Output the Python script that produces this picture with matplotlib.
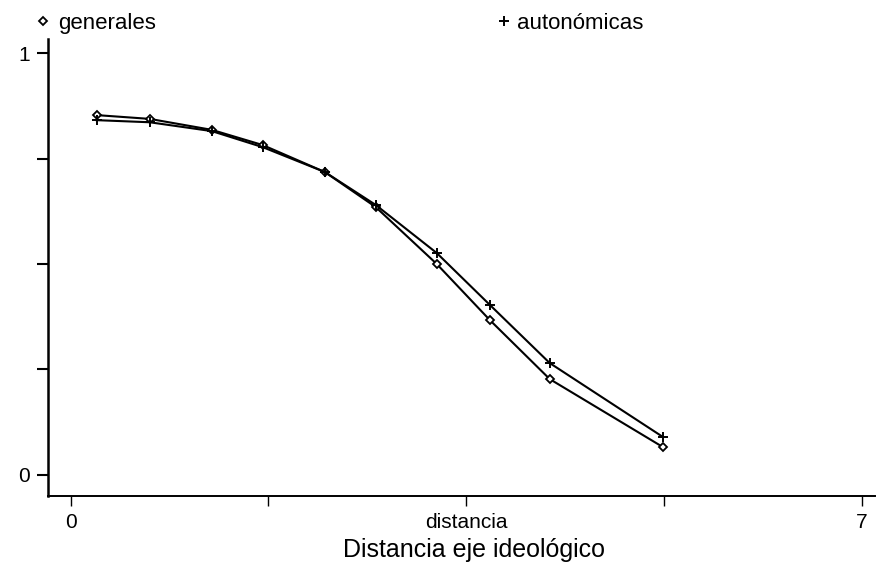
# Curvas de probabilidad de voto según distancia en el eje ideológico
import matplotlib.pyplot as plt

plt.rcParams['font.family'] = ['Liberation Sans', 'DejaVu Sans']

distancia = [0.23, 0.70, 1.25, 1.70, 2.25, 2.70, 3.24, 3.71, 4.24, 5.24]
generales = [0.853, 0.844, 0.818, 0.782, 0.718, 0.635, 0.500, 0.367, 0.227, 0.066]
autonomicas = [0.841, 0.836, 0.815, 0.777, 0.718, 0.640, 0.526, 0.403, 0.265, 0.090]

xticks = [0, 1.75, 3.5, 5.25, 7]
xticklabels = ['0', '', 'distancia', '', '7']
yticks = [0, 0.25, 0.5, 0.75, 1]
yticklabels = ['0', '', '', '', '1']

fig = plt.figure(figsize=(8.8, 5.68), dpi=100)
ax = fig.add_axes([0.0545, 0.127, 0.94, 0.804])

l1, = ax.plot(distancia, generales, color='black', lw=1.5, marker='D',
              markersize=4, markerfacecolor='white', markeredgewidth=1.3)
l2, = ax.plot(distancia, autonomicas, color='black', lw=1.5, marker='+',
              markersize=7, markeredgewidth=1.4)

ax.set_xlim(-0.2, 7.12)
ax.set_ylim(-0.05, 1.033)
ax.set_xticks(xticks)
ax.set_xticklabels(xticklabels)
ax.set_yticks(yticks)
ax.set_yticklabels(yticklabels)
ax.tick_params(axis='x', direction='out', length=7, width=1.0, labelsize=15, pad=5)
ax.tick_params(axis='y', direction='out', length=8, width=1.5, labelsize=15, pad=5)
ax.spines['top'].set_visible(False)
ax.spines['right'].set_visible(False)
ax.spines['left'].set_linewidth(1.8)
ax.spines['bottom'].set_linewidth(1.4)
fig.text(474 / 880, 1 - 550 / 568, 'Distancia eje ideológico', fontsize=18,
         ha='center', va='center')

leg1 = fig.legend([l1], ['generales'], loc='upper left', bbox_to_anchor=(0.026, 1.012),
                  frameon=False, fontsize=16, handlelength=0, handletextpad=0.7)
leg2 = fig.legend([l2], ['autonómicas'], loc='upper left', bbox_to_anchor=(0.55, 1.012),
                  frameon=False, fontsize=16, handlelength=0, handletextpad=0.6)
for leg in (leg1, leg2):
    for h in leg.legend_handles:
        h.set_linestyle('none')

fig.savefig('out.png', dpi=100)
